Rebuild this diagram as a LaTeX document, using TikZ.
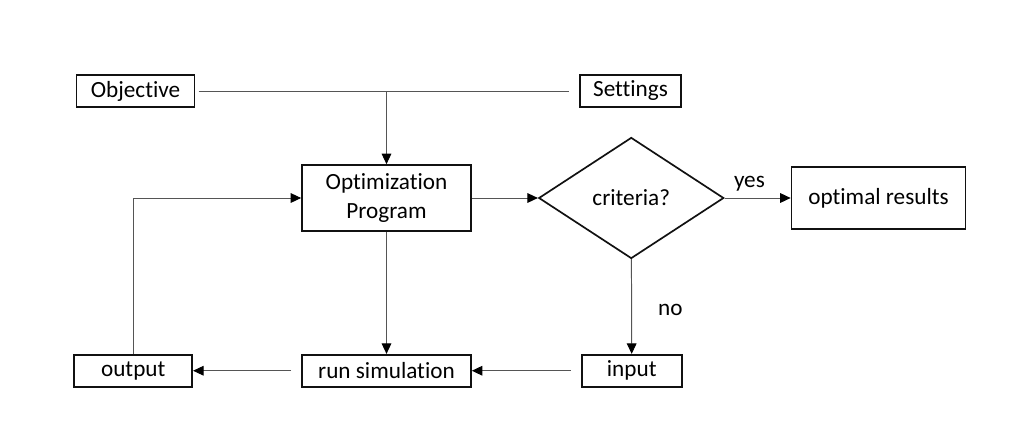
\documentclass[tikz,border=0pt]{standalone}
\usepackage{fontspec}
\setmainfont{Carlito}[Ligatures=CommonOff]
\usepackage{tikz}
\usetikzlibrary{
  shapes.geometric,
  arrows.meta,
  positioning
}
\definecolor{linegray} {HTML}{555555}
\definecolor{boxblack} {HTML}{111111}
\tikzset{
  flowbox/.style={
    rectangle, minimum height=0.8cm, inner sep=2pt,
    text centered, font=\fontsize{16.5}{20.5}\selectfont,
    draw=boxblack, fill=white, line width=1.2pt
  },
  decision/.style={
    diamond, minimum width=4.625cm, minimum height=3.025cm,
    inner sep=0pt, text centered, font=\fontsize{16.5}{20.5}\selectfont,
    draw=boxblack, fill=white, line width=1.2pt
  },
  flowarrow/.style={-{Triangle[length=0.26cm, width=0.24cm, color=black]},
    line width=0.7pt, color=linegray},
  plainline/.style={line width=0.7pt, color=linegray},
  edgelabel/.style={font=\fontsize{16.5}{20.5}\selectfont, text=black}
}
\begin{document}
\begin{tikzpicture}[
  x=0.025cm, y=-0.025cm,
  every node/.style = {align=center}
]
  \useasboundingbox (0,0) rectangle (1024,440);

  \node[flowbox, minimum width=2.95cm] (obj) at (135.5,91) {Objective};
  \node[flowbox, minimum width=2.525cm] (set) at (630.5,91) {Settings};
  \node[flowbox, minimum width=4.225cm, minimum height=1.65cm] (opt)
    at (386.5,198) {Optimization\\Program};
  \node[decision, right=1.65cm of opt] (crit) {criteria?};
  \node[flowbox, minimum width=4.35cm, minimum height=1.55cm,
    right=1.65cm of crit] (res) {optimal results};
  \node[flowbox, minimum width=4.225cm, below=3.05cm of opt] (sim)
    {run simulation};
  \node[flowbox, minimum width=2.5cm, right=2.725cm of sim] (inp) {input};
  \node[flowbox, minimum width=2.95cm, left=2.7cm of sim] (out) {output};

  \coordinate (junc) at (obj -| opt);
  \draw[plainline, shorten <=0.08cm, shorten >=0.25cm] (obj) -- (set);
  \draw[flowarrow] (junc) -- (opt);

  \foreach \a/\b in {opt/crit, crit/res}{
    \draw[flowarrow] (\a) -- (\b);
  }
  \node[edgelabel, above=1pt of crit.east, xshift=0.62cm] (yes) {yes};
  \draw[flowarrow] (crit) -- (inp);
  \node[edgelabel, below right=1.0cm and 0.55cm of crit.south] (no) {no};

  \draw[flowarrow] (opt) -- (sim);
  \foreach \a/\b in {inp/sim, sim/out}{
    \draw[flowarrow, shorten <=0.25cm] (\a) -- (\b);
  }
  \draw[flowarrow] (out.north) -- (out.north |- opt.west) -- (opt.west);

\end{tikzpicture}
\end{document}
